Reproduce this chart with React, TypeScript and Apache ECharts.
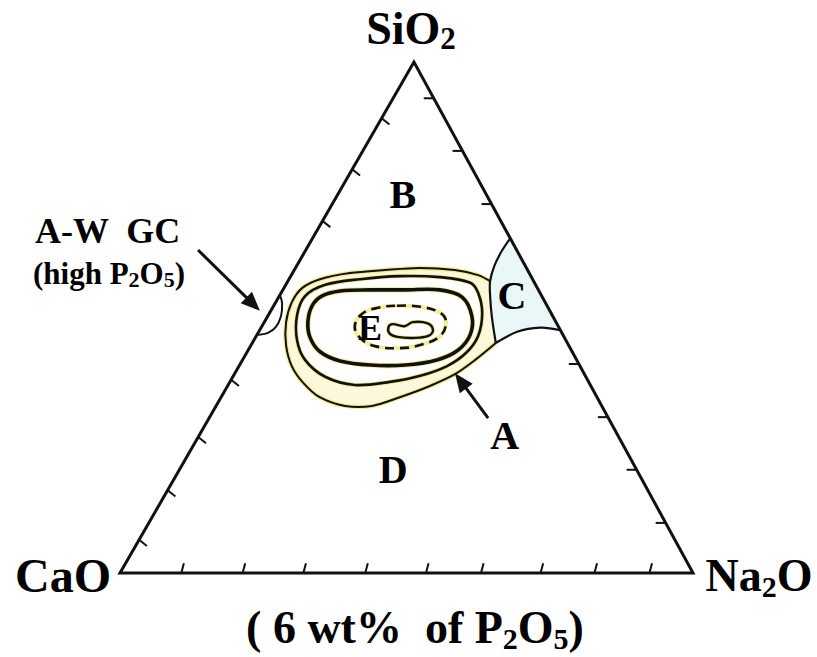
import { useEffect, useRef } from "react";
import * as echarts from "echarts";

// Compositions are [SiO2 wt%, Na2O wt%]; CaO = 100 - SiO2 - Na2O
const APEX_X = 51.3; // horizontal position of SiO2 apex on the 0..100 base
const CORNERS = [[0, 0], [0, 100], [100, 0]]; // CaO, Na2O, SiO2

const C_ARC = [[65.5, 34.5], [63.0, 34.3], [60.1, 34.5], [57.1, 35.3], [54.0, 36.9], [50.1, 39.2], [45.0, 42.5]];
const C_LOWER = [[47.5, 52.5], [48.0, 48.7], [47.2, 45.1], [45.0, 42.5]];
const CONTOUR_OUTER = [
  [45.0, 42.5], [41.7, 40.6], [38.9, 38.5], [36.6, 35.3], [34.4, 31.2], [32.7, 27.2], [32.7, 22.5],
  [34.4, 17.2], [37.2, 12.9], [40.5, 9.2], [44.6, 6.1], [49.1, 3.8], [53.0, 2.8], [55.8, 3.2],
  [57.5, 5.4], [58.7, 10.0], [59.3, 15.8], [59.7, 21.7], [59.3, 28.0], [58.3, 32.6], [57.1, 35.3],
];
const CONTOUR_2 = [
  [56.8, 32.0], [57.9, 26.1], [58.1, 19.1], [57.5, 12.4], [56.4, 6.9], [54.2, 4.5], [50.5, 5.0],
  [45.6, 7.5], [41.7, 10.9], [38.4, 16.1], [36.8, 22.1], [37.4, 27.9], [38.6, 32.6], [40.5, 36.3],
  [43.1, 38.3], [46.4, 38.7], [50.9, 37.1], [54.8, 34.4],
];
const CONTOUR_3 = [
  [54.0, 32.0], [55.4, 27.4], [55.4, 21.3], [55.4, 15.2], [55.2, 10.1], [54.2, 7.4], [52.3, 6.7],
  [49.1, 7.6], [46.0, 9.6], [43.3, 12.7], [41.5, 17.1], [40.7, 22.8], [40.7, 28.9], [41.7, 33.9],
  [43.6, 36.6], [46.6, 37.2], [50.3, 35.6],
];
const CONTOUR_DASHED = [
  [52.3, 21.5], [52.1, 25.7], [50.9, 29.8], [49.1, 31.7], [46.4, 32.1], [44.6, 29.5], [44.0, 26.3],
  [44.4, 21.7], [46.0, 18.3], [48.3, 16.2], [50.7, 16.2], [51.9, 18.4],
];
const CONTOUR_INNER = [
  [48.0, 22.2], [48.7, 22.5], [48.3, 24.9], [49.1, 25.9], [48.9, 28.5], [47.6, 30.2], [46.4, 30.0],
  [46.0, 27.5], [46.2, 24.7], [46.8, 23.1],
];
const AW_LOOP = [[54.4, 0], [52.8, 1.2], [50.3, 2.3], [48.1, 2.5], [47.0, 1.7], [46.6, 0]];

// arrows: [tail SiO2, tail Na2O, tip SiO2, tip Na2O]
const ARROWS = [[63.2, -18.8, 51.3, -1.9], [30.3, 48.7, 39.1, 38.4]];

const REGION_NAMES = ["B", "C", "E", "A", "D"];
const REGION_POS = [[74.0, 11.4], [54.4, 40.5], [48.0, 19.0], [27.0, 53.3], [20.2, 37.3]];
const REGION_SIZE = [40, 40, 36, 40, 40];

const BOTTOM_TICKS = [10.7, 21.4, 32.0, 42.8, 53.4, 63.0, 73.4, 82.8, 92.4]; // Na2O %
const LEFT_TICKS = [6.5, 16.2, 26.6, 37.8, 68.9, 79.0, 89.0]; // SiO2 % on CaO-SiO2 edge
const RIGHT_TICKS = [9.8, 20.2, 30.5, 40.9, 72.2, 82.6, 92.9]; // SiO2 % on Na2O-SiO2 edge

const FONT = "'Liberation Serif', 'Times New Roman', Times, serif";
const INK = "#111";
const HALO = "#f1e77e";

const toXY = (p: number[]) => [p[1] + (p[0] * APEX_X) / 100, p[0]];

export default function App() {
  const ref = useRef<HTMLDivElement>(null);
  useEffect(() => {
    const chart = echarts.init(ref.current!, null, { renderer: "svg" });

    const shape = (pts: number[][], closed: boolean, styles: any[], smooth: number, z: number) => ({
      type: "custom",
      coordinateSystem: "cartesian2d",
      silent: true,
      z,
      data: [[0, 0]],
      renderItem: (_p: any, api: any) => {
        const points = pts.map((p) => api.coord(toXY(p)));
        return {
          type: "group",
          children: styles.map((st) => ({
            type: closed ? "polygon" : "polyline",
            shape: { points, smooth },
            style: st,
          })),
        };
      },
    });

    const line = (w: number, dash?: number[]) => ({ stroke: INK, lineWidth: w, fill: null, lineDash: dash });
    const halo = { stroke: HALO, lineWidth: 4.5, fill: null, opacity: 0.8 };

    const tickSeries = (pts: number[][], dir: number[]) => ({
      type: "custom",
      coordinateSystem: "cartesian2d",
      silent: true,
      z: 6,
      data: pts,
      renderItem: (_p: any, api: any) => {
        const c = api.coord(toXY([api.value(0), api.value(1)]));
        return {
          type: "line",
          shape: { x1: c[0], y1: c[1], x2: c[0] + dir[0] * 10, y2: c[1] + dir[1] * 10 },
          style: { stroke: INK, lineWidth: 2 },
        };
      },
    });

    const rich = (m: number, s: number) => ({
      m: { fontFamily: FONT, fontWeight: "bold", fontSize: m, lineHeight: Math.round(m * 1.13), fill: "#000" },
      s: { fontFamily: FONT, fontWeight: "bold", fontSize: s, lineHeight: Math.round(s * 0.85), verticalAlign: "bottom", fill: "#000" },
    });

    const option: any = {
      animation: false,
      backgroundColor: "#fff",
      grid: { left: 120, top: 62, right: 124, bottom: 84 },
      xAxis: { type: "value", min: 0, max: 100, show: false },
      yAxis: { type: "value", min: 0, max: 100, show: false },
      series: [
        // C region fill
        shape([...C_ARC, ...C_LOWER.slice(0, -1).reverse()], true, [{ fill: "#eaf7f9", stroke: null }], 0, 1),
        // outer contour fill
        shape([...CONTOUR_OUTER, ...C_ARC.slice(4)], true, [{ fill: "#fdf8dc", stroke: null }], 0.3, 2),
        shape(CONTOUR_2, true, [{ fill: "#fff", stroke: null }], 0.35, 2),
        // contour lines
        shape(CONTOUR_OUTER, false, [halo, line(2)], 0.3, 3),
        shape(CONTOUR_2, true, [halo, line(2.6)], 0.35, 3),
        shape(CONTOUR_3, true, [{ ...halo, lineWidth: 5.5 }, line(3.6)], 0.35, 3),
        shape(CONTOUR_DASHED, true, [{ ...halo, lineWidth: 4 }, line(2.6, [9, 6])], 0.4, 3),
        shape(CONTOUR_INNER, true, [{ fill: "#fff", stroke: HALO, lineWidth: 4 }, { fill: null, stroke: INK, lineWidth: 2.4 }], 0.4, 3),
        // C boundaries
        shape(C_ARC, false, [line(2.2)], 0.35, 4),
        shape(C_LOWER, false, [line(2.2)], 0.35, 4),
        // A-W GC loop
        shape(AW_LOOP, false, [{ stroke: INK, lineWidth: 2, fill: "#fff" }], 0.35, 4),
        // triangle
        shape(CORNERS, true, [{ stroke: INK, lineWidth: 3, fill: null, lineJoin: "miter" }], 0, 5),
        tickSeries(BOTTOM_TICKS.map((n) => [0, n]), [0.26, -0.97]),
        tickSeries(LEFT_TICKS.map((s) => [s, 0]), [0.78, 0.62]),
        tickSeries(RIGHT_TICKS.map((s) => [s, 100 - s]), [-1, 0]),
        // arrows
        {
          type: "custom",
          coordinateSystem: "cartesian2d",
          silent: true,
          z: 7,
          data: ARROWS,
          renderItem: (_p: any, api: any) => {
            const t = api.coord(toXY([api.value(0), api.value(1)]));
            const h = api.coord(toXY([api.value(2), api.value(3)]));
            const dx = h[0] - t[0];
            const dy = h[1] - t[1];
            const L = Math.hypot(dx, dy);
            const ux = dx / L;
            const uy = dy / L;
            const hl = 19;
            const hw = 8;
            const bx = h[0] - ux * hl;
            const by = h[1] - uy * hl;
            return {
              type: "group",
              children: [
                { type: "line", shape: { x1: t[0], y1: t[1], x2: bx + ux * 2, y2: by + uy * 2 }, style: { stroke: INK, lineWidth: 3 } },
                {
                  type: "polygon",
                  shape: { points: [[h[0], h[1]], [bx - uy * hw, by + ux * hw], [bx + uy * hw, by - ux * hw]] },
                  style: { fill: INK, stroke: null },
                },
              ],
            };
          },
        },
        // region labels
        {
          type: "custom",
          coordinateSystem: "cartesian2d",
          silent: true,
          z: 8,
          data: REGION_POS,
          renderItem: (p: any, api: any) => {
            const c = api.coord(toXY([api.value(0), api.value(1)]));
            return {
              type: "text",
              x: c[0],
              y: c[1],
              style: {
                text: REGION_NAMES[p.dataIndex],
                fontFamily: FONT,
                fontWeight: "bold",
                fontSize: REGION_SIZE[p.dataIndex],
                fill: "#000",
                align: "center",
                verticalAlign: "middle",
              },
            };
          },
        },
      ],
      graphic: [
        {
          type: "text",
          x: 411,
          y: 28,
          style: { text: "{m|SiO}{s|2}", align: "center", verticalAlign: "middle", rich: rich(46, 31) },
        },
        {
          type: "text",
          x: 63,
          y: 575,
          style: { text: "CaO", fontFamily: FONT, fontWeight: "bold", fontSize: 48, fill: "#000", align: "center", verticalAlign: "middle" },
        },
        {
          type: "text",
          x: 759,
          y: 575,
          style: { text: "{m|Na}{s|2}{m|O}", align: "center", verticalAlign: "middle", rich: rich(46, 30) },
        },
        {
          type: "text",
          x: 415,
          y: 627,
          style: { text: "{m|( 6 wt%  of P}{s|2}{m|O}{s|5}{m|)}", align: "center", verticalAlign: "middle", rich: rich(46, 30) },
        },
        {
          type: "text",
          x: 35,
          y: 231,
          style: { text: "A-W  GC", fontFamily: FONT, fontWeight: "bold", fontSize: 36, fill: "#000", align: "left", verticalAlign: "middle" },
        },
        {
          type: "text",
          x: 33,
          y: 273,
          style: { text: "{m|(high P}{s|2}{m|O}{s|5}{m|)}", align: "left", verticalAlign: "middle", rich: rich(31, 22) },
        },
      ],
    };
    chart.setOption(option);
    return () => chart.dispose();
  }, []);
  return (
    <div
      ref={ref}
      style={{ position: "fixed", left: 0, top: 0, width: 817, height: 657, background: "#fff" }}
    />
  );
}
